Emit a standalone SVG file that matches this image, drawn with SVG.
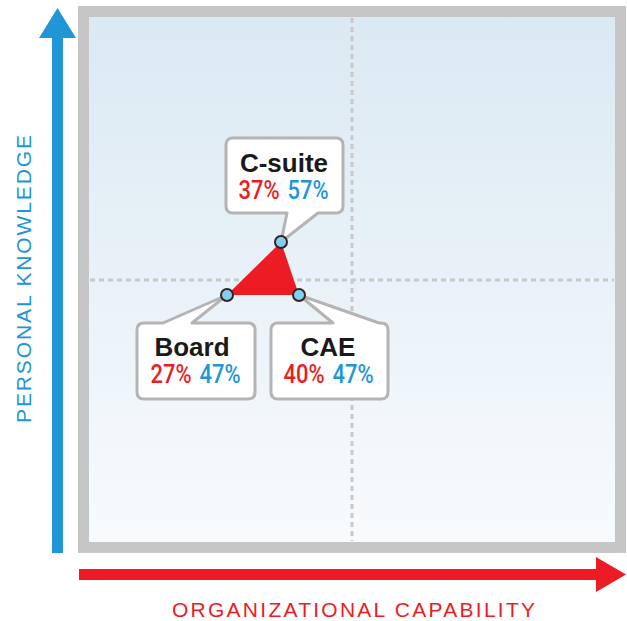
<svg xmlns="http://www.w3.org/2000/svg" width="627" height="621" viewBox="0 0 627 621">
  <defs>
    <linearGradient id="bg" x1="0" y1="0" x2="0" y2="1">
      <stop offset="0" stop-color="#dae9f3"/>
      <stop offset="1" stop-color="#f8fbfd"/>
    </linearGradient>
    <style>
      .grid { stroke: #c9c9c9; stroke-width: 3; stroke-dasharray: 5 4; fill: none; }
      .callout { fill: #ffffff; stroke: #b4b4b4; stroke-width: 3; stroke-linejoin: round; }
      .title { font-family: "Liberation Sans", Arial, sans-serif; font-weight: bold; font-size: 26px; fill: #1a1a1a; text-anchor: middle; }
      .pct { font-family: "Roboto", "Liberation Sans", sans-serif; font-weight: 500; font-size: 25px; text-anchor: middle; }
      .red { fill: #ed1c24; }
      .blue { fill: #2196d6; }
      .pt { fill: #80d0f4; stroke: #3a2222; stroke-width: 2; }
      .axis { font-family: "Liberation Sans", Arial, sans-serif; font-size: 21px; }
    </style>
  </defs>
  <rect width="627" height="621" fill="#ffffff"/>
  <!-- frame -->
  <g id="frame">
    <rect x="83.5" y="11.5" width="537" height="536" fill="url(#bg)" stroke="#c6c6c6" stroke-width="11"/>
    <line class="grid" x1="352" y1="18" x2="352" y2="541"/>
    <line class="grid" x1="90" y1="280" x2="614" y2="280"/>
  </g>
  <!-- axes -->
  <g id="y-axis">
    <rect x="52" y="37" width="11" height="516" fill="#2196d6"/>
    <polygon points="39,38 57.5,8 76,38" fill="#2196d6"/>
    <text class="axis blue" transform="translate(31,279) rotate(-90)" text-anchor="middle" textLength="288" lengthAdjust="spacing">PERSONAL KNOWLEDGE</text>
  </g>
  <g id="x-axis">
    <rect x="79" y="569" width="519" height="11" fill="#ed1c24"/>
    <polygon points="596,557 626,574.5 596,592" fill="#ed1c24"/>
    <text class="axis red" x="172" y="617" textLength="363" lengthAdjust="spacing">ORGANIZATIONAL CAPABILITY</text>
  </g>
  <!-- connectors / triangle -->
  <g id="connectors">
    <polygon points="281,242 227,295 299,295" fill="#ed1c24"/>
  </g>
  <!-- nodes -->
  <g id="c-suite">
    <path class="callout" d="M233,138 H336 Q343,138 343,145 V206 Q343,213 336,213 H318 L281,242 L287,213 H233 Q226,213 226,206 V145 Q226,138 233,138 Z"/>
    <text class="title" x="284" y="172">C-suite</text>
    <text class="pct red" x="259" y="199" textLength="41" lengthAdjust="spacingAndGlyphs">37%</text>
    <text class="pct blue" x="308" y="199" textLength="41" lengthAdjust="spacingAndGlyphs">57%</text>
    <circle class="pt" cx="281" cy="242" r="6"/>
  </g>
  <g id="board">
    <path class="callout" d="M144,323 H163 L227,295 L192,323 H248 Q255,323 255,330 V392 Q255,399 248,399 H144 Q137,399 137,392 V330 Q137,323 144,323 Z"/>
    <text class="title" x="192" y="356">Board</text>
    <text class="pct red" x="171" y="383" textLength="41" lengthAdjust="spacingAndGlyphs">27%</text>
    <text class="pct blue" x="220" y="383" textLength="41" lengthAdjust="spacingAndGlyphs">47%</text>
    <circle class="pt" cx="227" cy="295" r="6"/>
  </g>
  <g id="cae">
    <path class="callout" d="M278,323 H333 L299,295 L379,323 H381 Q388,323 388,330 V392 Q388,399 381,399 H278 Q271,399 271,392 V330 Q271,323 278,323 Z"/>
    <text class="title" x="328" y="356">CAE</text>
    <text class="pct red" x="304" y="383" textLength="41" lengthAdjust="spacingAndGlyphs">40%</text>
    <text class="pct blue" x="353" y="383" textLength="41" lengthAdjust="spacingAndGlyphs">47%</text>
    <circle class="pt" cx="299" cy="295" r="6"/>
  </g>
</svg>
